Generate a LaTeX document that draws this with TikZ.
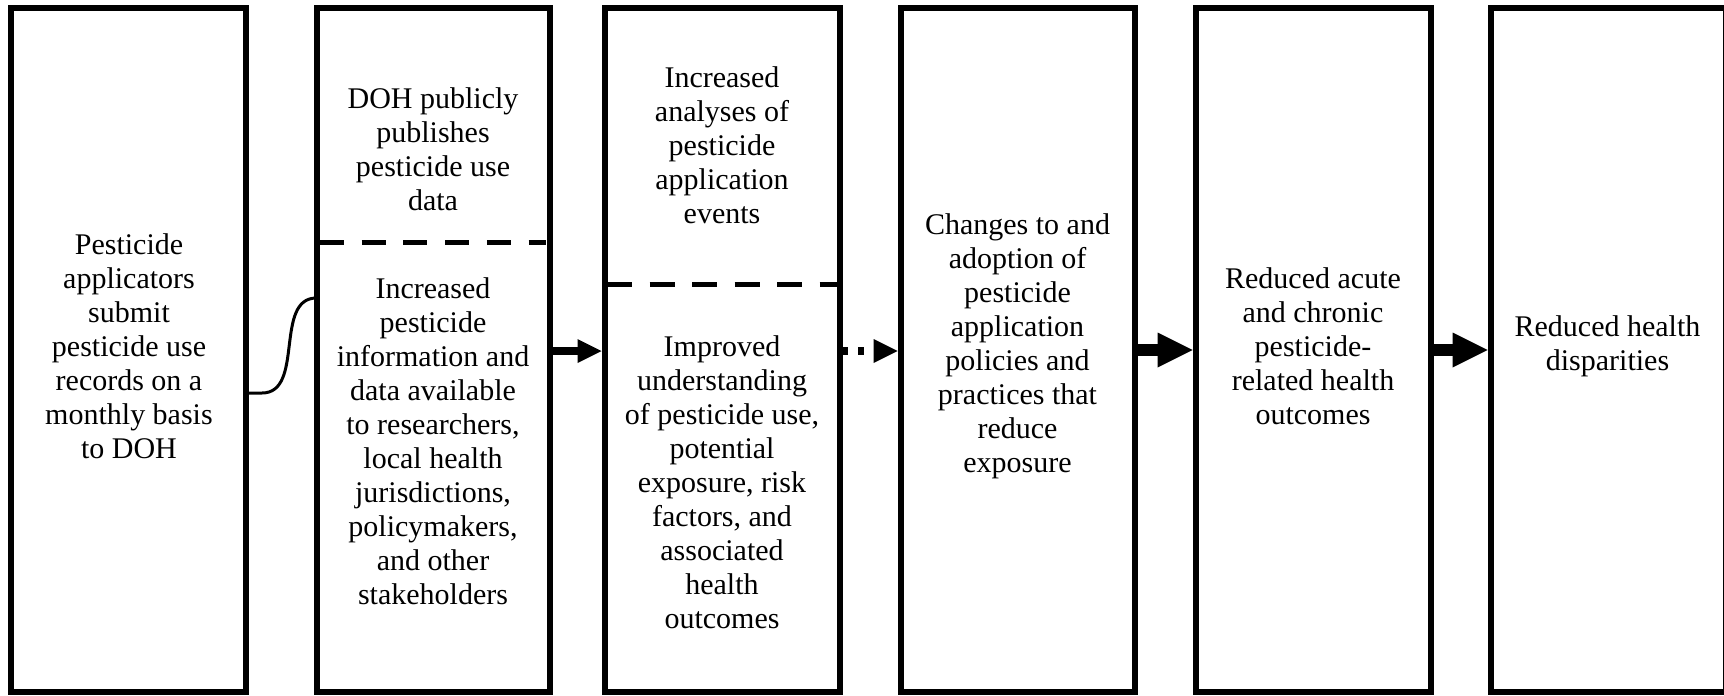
\documentclass[tikz,border=0pt]{standalone}
\usepackage{fontspec}
\setmainfont{Liberation Serif}
\usetikzlibrary{arrows.meta}
\tikzset{
  box/.style={draw=black, line width=6pt, minimum height=684pt, inner sep=0pt, outer sep=0pt},
  txt/.style={align=center, inner sep=0pt, font=\fontsize{30}{34}\selectfont},
  sepline/.style={line width=5pt},
  thinarrow/.style={line width=7.5pt, shorten >=3pt, -{Triangle[length=24pt,width=24pt,line width=0pt]}},
  thickarrow/.style={line width=12.5pt, shorten >=3pt, -{Triangle[length=35pt,width=35pt,line width=0pt]}},
  link/.style={line width=3pt}
}
\begin{document}
\begin{tikzpicture}[x=1pt,y=-1pt]
\useasboundingbox[fill=white] (0,0) rectangle (1724,696);
% boxes
\node[box, minimum width=235pt] (b1) at (128.5,350) {};
\node[box, minimum width=233pt] (b2) at (433,350) {};
\node[box, minimum width=235pt] (b3) at (722,350) {};
\node[box, minimum width=234pt] (b4) at (1017.5,350) {};
\node[box, minimum width=235pt] (b5) at (1313,350) {};
\node[box, minimum width=235pt] (b6) at (1608,350) {};
% separators
\draw[sepline, dash pattern=on 24pt off 17.7pt] ([shift={(3.5pt,108pt)}]b2.west) -- ([shift={(-3.5pt,108pt)}]b2.east);
\draw[sepline, dash pattern=on 25pt off 17.5pt] ([shift={(2.5pt,66pt)}]b3.west) -- ([shift={(-3pt,66pt)}]b3.east);
% texts
\node[txt] (t1) at (129,346) {Pesticide\\applicators\\submit\\pesticide use\\records on a\\monthly basis\\to DOH};
\node[txt] (t2a) at (433,149.5) {DOH publicly\\publishes\\pesticide use\\data};
\node[txt] (t2b) at (433,441) {Increased\\pesticide\\information and\\data available\\to researchers,\\local health\\jurisdictions,\\policymakers,\\and other\\stakeholders};
\node[txt] (t3a) at (722,145.7) {Increased\\analyses of\\pesticide\\application\\events};
\node[txt] (t3b) at (722,482) {Improved\\understanding\\of pesticide use,\\potential\\exposure, risk\\factors, and\\associated\\health\\outcomes};
\node[txt] (t4) at (1017.5,346) {Changes to and\\adoption of\\pesticide\\application\\policies and\\practices that\\reduce\\exposure};
\node[txt] (t5) at (1313,346) {Reduced acute\\and chronic\\pesticide-\\related health\\outcomes};
\node[txt] (t6) at (1607.5,346) {Reduced health\\disparities};
% connectors
\coordinate (cs) at ([yshift=-43pt]b1.east);
\coordinate (ce) at ([yshift=52pt]b2.west);
\draw[link] (cs) -- ++(16,0) to[out=0,in=180] (ce);
\draw[thinarrow] ([yshift=-1pt]b2.east) -- ([yshift=-1pt]b3.west);
\draw[thinarrow, dash pattern=on 5.5pt off 10.5pt] ([shift={(2.5pt,-1pt)}]b3.east) -- ([yshift=-1pt]b4.west);
\draw[thickarrow] (b4.east) -- (b5.west);
\draw[thickarrow] (b5.east) -- (b6.west);
\end{tikzpicture}
\end{document}
